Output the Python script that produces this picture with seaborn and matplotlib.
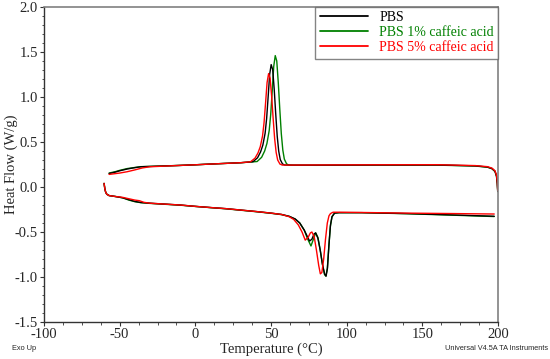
import numpy as np
import pandas as pd
import matplotlib
matplotlib.use("Agg")
import matplotlib.pyplot as plt
from matplotlib.ticker import MultipleLocator
import seaborn as sns

series_names = ["PBS", "PBS 1% caffeic acid", "PBS 5% caffeic acid"]
series_colors = ["#000000", "#008000", "#ff0000"]

# cooling segments (200 -> -57 °C)
cool_t_pbs = [199.8, 199.5, 199.0, 198.0, 196.0, 193.0, 185.0, 160.0, 120.0, 80.0, 65.0, 59.1, 57.6, 56.1, 55.1,
              54.1, 53.1, 52.1, 51.1, 50.1, 49.1, 48.1, 47.1, 46.1, 44.6, 43.1, 41.1, 38.1, 30.0, 10.0, 0.0,
              -10.0, -36.0, -40.0, -45.0, -50.0, -53.0, -57.0]
cool_hf_pbs = [-0.05, 0.04, 0.12, 0.175, 0.205, 0.222, 0.235, 0.245, 0.245, 0.243, 0.243, 0.244, 0.256, 0.305,
               0.397, 0.565, 0.815, 1.09, 1.305, 1.36, 1.25, 1.0, 0.76, 0.597, 0.466, 0.39, 0.325, 0.281, 0.27,
               0.255, 0.247, 0.24, 0.225, 0.215, 0.2, 0.18, 0.165, 0.15]

cool_t_1 = [199.8, 199.5, 199.0, 198.0, 196.0, 193.0, 185.0, 160.0, 120.0, 80.0, 65.0, 61.8, 60.3, 58.8, 57.8,
            56.8, 55.8, 54.8, 53.8, 52.8, 51.8, 50.8, 49.8, 48.8, 47.3, 45.8, 43.8, 40.8, 30.0, 10.0, 0.0,
            -10.0, -36.0, -40.0, -45.0, -50.0, -53.0, -57.0]
cool_hf_1 = [-0.05, 0.04, 0.12, 0.172, 0.203, 0.22, 0.233, 0.243, 0.243, 0.241, 0.242, 0.244, 0.257, 0.31,
             0.41, 0.593, 0.865, 1.16, 1.40, 1.46, 1.341, 1.067, 0.806, 0.627, 0.484, 0.40, 0.33, 0.283, 0.27,
             0.255, 0.247, 0.24, 0.226, 0.217, 0.205, 0.185, 0.17, 0.155]

cool_t_5 = [199.8, 199.5, 199.0, 198.0, 196.0, 193.0, 185.0, 160.0, 120.0, 80.0, 65.0, 57.4, 55.9, 54.4, 53.4,
            52.4, 51.4, 50.4, 49.4, 48.4, 47.4, 46.4, 45.4, 44.4, 42.9, 41.4, 39.4, 36.4, 30.0, 10.0, 0.0,
            -10.0, -30.0, -35.0, -40.0, -45.0, -50.0, -57.0]
cool_hf_5 = [-0.04, 0.06, 0.13, 0.18, 0.21, 0.226, 0.238, 0.248, 0.247, 0.245, 0.244, 0.244, 0.255, 0.30,
             0.384, 0.537, 0.765, 1.013, 1.21, 1.26, 1.161, 0.933, 0.715, 0.567, 0.448, 0.379, 0.32, 0.28, 0.27,
             0.255, 0.247, 0.24, 0.225, 0.212, 0.19, 0.17, 0.155, 0.14]

# heating segments (-60 -> 198 °C)
heat_t_pbs = [-60.3, -59.8, -59.2, -58.5, -57.0, -53.0, -48.0, -44.0, -40.0, -36.0, -30.0, -20.0, -10.0, 0.0,
              10.0, 20.0, 30.0, 40.0, 50.0, 57.0, 62.0, 66.0, 69.0, 72.0, 74.0, 75.5, 77.0, 78.5, 79.5, 81.0,
              82.5, 84.0, 85.5, 86.4, 87.3, 88.3, 89.3, 90.3, 92.0, 95.0, 110.0, 140.0, 170.0, 197.5]
heat_hf_pbs = [0.04, -0.02, -0.06, -0.08, -0.095, -0.105, -0.12, -0.14, -0.16, -0.172, -0.18, -0.19, -0.20,
               -0.215, -0.228, -0.24, -0.256, -0.272, -0.29, -0.305, -0.325, -0.355, -0.40, -0.48, -0.55, -0.60,
               -0.58, -0.52, -0.51, -0.57, -0.70, -0.86, -0.97, -0.99, -0.90, -0.64, -0.42, -0.33, -0.29,
               -0.285, -0.285, -0.295, -0.31, -0.325]

heat_t_1 = [-60.3, -59.8, -59.2, -58.5, -57.0, -53.0, -48.0, -44.0, -40.0, -36.0, -30.0, -20.0, -10.0, 0.0,
            10.0, 20.0, 30.0, 40.0, 50.0, 57.0, 62.0, 66.0, 69.0, 72.0, 74.0, 76.4, 78.0, 79.5, 81.0,
            82.5, 84.0, 85.3, 86.2, 87.2, 88.2, 89.2, 90.3, 92.0, 95.0, 110.0, 140.0, 170.0, 197.5]
heat_hf_1 = [0.04, -0.02, -0.06, -0.08, -0.095, -0.105, -0.12, -0.145, -0.163, -0.174, -0.182, -0.192, -0.202,
             -0.216, -0.229, -0.242, -0.258, -0.274, -0.292, -0.307, -0.327, -0.357, -0.40, -0.48, -0.57, -0.655,
             -0.58, -0.51, -0.56, -0.70, -0.86, -0.97, -0.99, -0.91, -0.66, -0.44, -0.33, -0.29,
             -0.285, -0.285, -0.297, -0.313, -0.328]

heat_t_5 = [-60.3, -59.8, -59.2, -58.5, -57.0, -53.0, -48.0, -44.0, -40.0, -37.0, -34.0, -30.0, -20.0, -10.0,
            0.0, 10.0, 20.0, 30.0, 40.0, 50.0, 57.0, 62.0, 65.0, 68.0, 70.5, 72.6, 74.5, 76.0, 77.0, 78.5,
            80.0, 81.5, 82.6, 83.6, 84.8, 86.0, 87.2, 88.3, 89.3, 91.0, 95.0, 110.0, 140.0, 170.0, 197.5]
heat_hf_5 = [0.04, -0.02, -0.06, -0.08, -0.095, -0.105, -0.115, -0.13, -0.145, -0.152, -0.17, -0.18, -0.19,
             -0.20, -0.215, -0.228, -0.24, -0.256, -0.272, -0.29, -0.305, -0.33, -0.36, -0.42, -0.50, -0.59,
             -0.56, -0.51, -0.50, -0.55, -0.70, -0.87, -0.965, -0.95, -0.80, -0.58, -0.40, -0.32, -0.295,
             -0.28, -0.28, -0.283, -0.29, -0.295, -0.30]

cool_t = [cool_t_pbs, cool_t_1, cool_t_5]
cool_hf = [cool_hf_pbs, cool_hf_1, cool_hf_5]
heat_t = [heat_t_pbs, heat_t_1, heat_t_5]
heat_hf = [heat_hf_pbs, heat_hf_1, heat_hf_5]

sns.set_style("ticks")
plt.rcParams["font.family"] = ["Liberation Serif", "DejaVu Serif"]

fig = plt.figure(figsize=(5.5, 3.59), dpi=100)
ax = fig.add_axes([0.08, 0.103, 0.8255, 0.8775])

draw_order = [1, 0, 2]
handles = {}
for i in draw_order:
    df_c = pd.DataFrame({"t": cool_t[i], "hf": cool_hf[i]})
    df_h = pd.DataFrame({"t": heat_t[i], "hf": heat_hf[i]})
    sns.lineplot(data=df_c, x="t", y="hf", sort=False, estimator=None, color=series_colors[i], lw=1.0, ax=ax)
    sns.lineplot(data=df_h, x="t", y="hf", sort=False, estimator=None, color=series_colors[i], lw=1.0, ax=ax)
    handles[i] = ax.lines[-1]

ax.set_xlim(-100, 200)
ax.set_ylim(-1.5, 2.0)
ax.xaxis.set_minor_locator(MultipleLocator(12.5))
ax.yaxis.set_minor_locator(MultipleLocator(0.1))
ax.set_xticks(np.arange(-100, 201, 50))
ax.set_xticklabels(["-100", "-50", "0", "50", "100", "150", "200"])
ax.set_yticks(np.arange(-1.5, 2.01, 0.5))
ax.set_yticklabels(["-1.5", "-1.0", "-0.5", "0.0", "0.5", "1.0", "1.5", "2.0"])
ax.tick_params(axis="both", which="major", direction="out", length=3.2, width=0.8, labelsize=10.5, pad=1.2,
               color="#333333")
ax.tick_params(axis="both", which="minor", direction="out", length=1.8, width=0.6, color="#333333")

ax.set_xlabel("Temperature (°C)", fontsize=10.5, labelpad=1)
ax.set_ylabel("Heat Flow (W/g)", fontsize=10.5)
ax.yaxis.set_label_coords(-0.058, 0.5)

for side in ["left", "bottom"]:
    ax.spines[side].set_color("#333333")
    ax.spines[side].set_linewidth(1.0)
for side in ["top", "right"]:
    ax.spines[side].set_visible(True)
    ax.spines[side].set_color("#808080")
    ax.spines[side].set_linewidth(1.2)

leg = ax.legend([handles[0], handles[1], handles[2]], series_names, loc="upper right", fontsize=10,
                frameon=True, fancybox=False, borderaxespad=0, handlelength=3.5, handletextpad=0.8,
                labelspacing=0.15, borderpad=0.3)
leg.get_frame().set_edgecolor("#666666")
leg.get_frame().set_linewidth(1.0)
for txt, c in zip(leg.get_texts(), series_colors):
    txt.set_color(c)
for ln in leg.get_lines():
    ln.set_linewidth(1.3)

fig.text(0.022, 0.028, "Exo Up", fontsize=5.3, family=["Liberation Sans", "DejaVu Sans"], ha="left", va="center")
fig.text(0.996, 0.028, "Universal V4.5A TA Instruments", fontsize=5.3, family=["Liberation Sans", "DejaVu Sans"],
         ha="right", va="center")

fig.savefig("out.png", dpi=100)
